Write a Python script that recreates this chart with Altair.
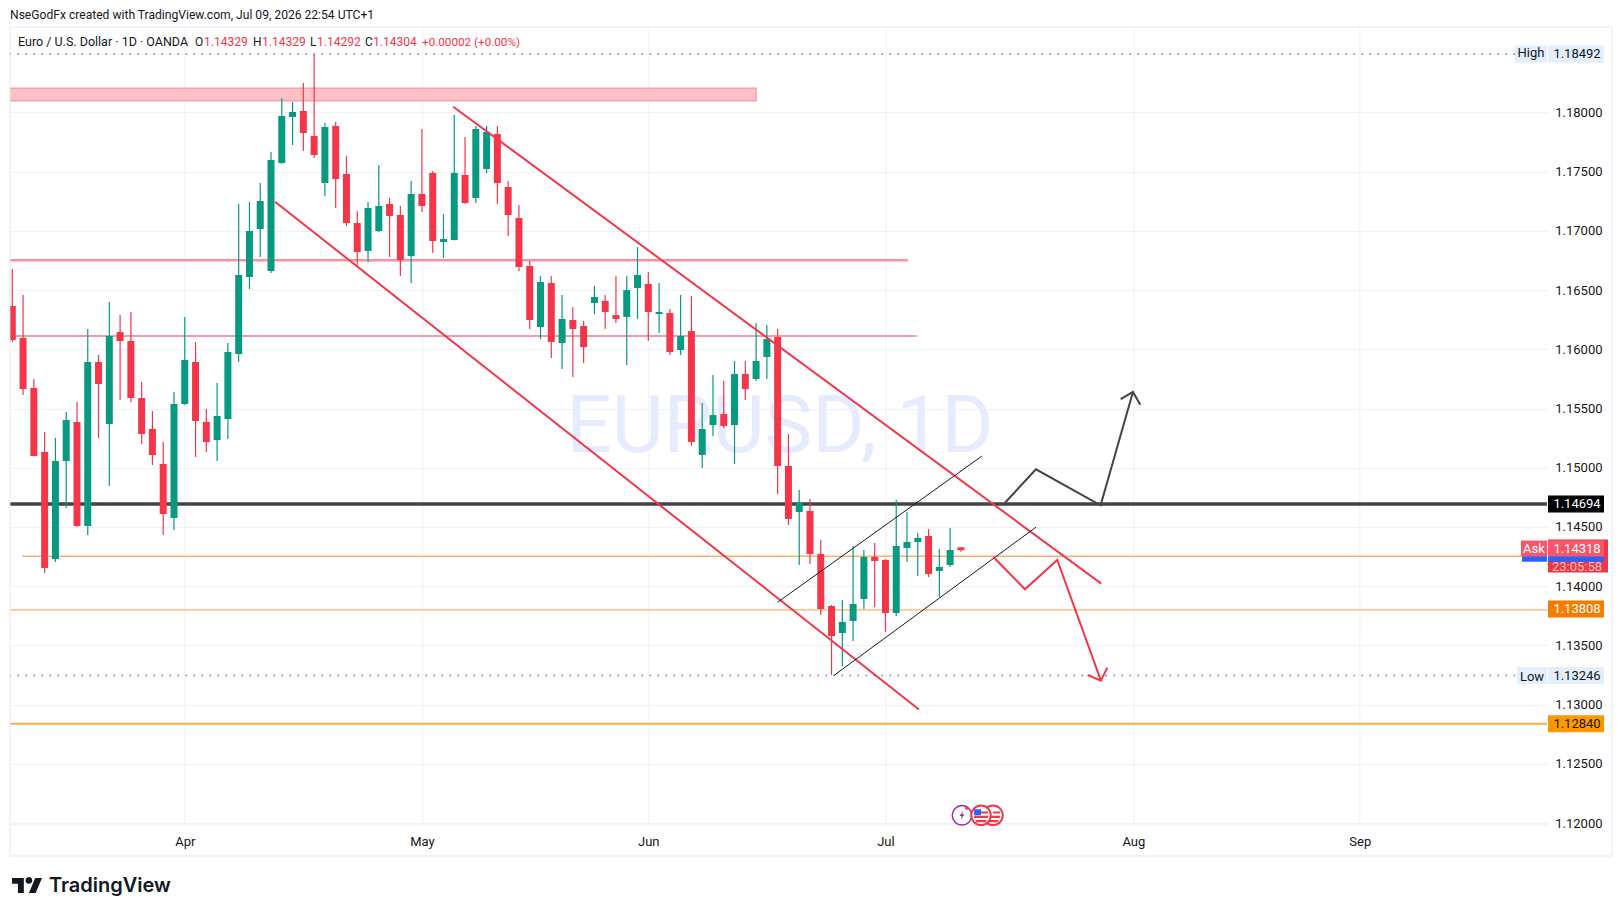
import altair as alt
import pandas as pd

opens = [1.16365,1.16095,1.15673,1.15133,1.14230,1.15057,1.15386,1.14509,1.15893,1.15369,
         1.16146,1.16070,1.15589,1.15327,1.15032,1.14576,1.15538,1.15893,1.15386,1.15234,
         1.15412,1.15960,1.16610,1.17015,1.16661,1.17572,1.17961,1.18011,1.17800,1.17403,
         1.17885,1.17479,1.17066,1.16830,1.16998,1.17226,1.17133,1.16787,1.17311,1.17488,
         1.16906,1.16922,1.17471,1.17277,1.17522,1.17817,1.17370,1.17108,1.16703,1.16188,
         1.16559,1.16053,1.16247,1.16197,1.16391,1.16408,1.16289,1.16273,1.16517,1.16551,
         1.16298,1.16306,1.15994,1.16154,1.15108,1.15361,1.15454,1.15361,1.15791,1.15749,
         1.15935,1.16104,1.15015,1.14627,1.14635,1.14272,1.13833,1.13605,1.13707,1.13892,
         1.14247,1.14222,1.13774,1.14323,1.14374,1.14424,1.14129,1.14179,1.14329]
highs = [1.16678,1.16458,1.15749,1.15302,1.15251,1.15471,1.15555,1.16171,1.15952,1.16399,
         1.16289,1.16315,1.15724,1.15479,1.15218,1.15640,1.16273,1.16062,1.15496,1.15715,
         1.16053,1.17226,1.17243,1.17403,1.17665,1.18121,1.18087,1.18247,1.18492,1.17910,
         1.17918,1.17631,1.17167,1.17243,1.17555,1.17277,1.17209,1.17420,1.17859,1.17505,
         1.17142,1.17977,1.17792,1.17885,1.17885,1.17885,1.17420,1.17218,1.16745,1.16619,
         1.16619,1.16458,1.16357,1.16239,1.16534,1.16458,1.16619,1.16619,1.16863,1.16652,
         1.16559,1.16340,1.16458,1.16450,1.15547,1.15783,1.15732,1.15901,1.15901,1.16222,
         1.16205,1.16171,1.15285,1.14812,1.14736,1.14390,1.13842,1.13884,1.14340,1.14306,
         1.14365,1.14230,1.14728,1.14627,1.14449,1.14483,1.14314,1.14492,1.14329]
lows = [1.16062,1.15614,1.15095,1.14112,1.14205,1.14660,1.14500,1.14433,1.15251,1.14846,
        1.15572,1.15555,1.15201,1.15023,1.14433,1.14475,1.15530,1.15091,1.15133,1.15057,
        1.15243,1.15893,1.16509,1.16779,1.16644,1.17564,1.17724,1.17674,1.17614,1.17294,
        1.17192,1.17041,1.16703,1.16737,1.16990,1.16779,1.16619,1.16559,1.17159,1.16813,
        1.16770,1.16918,1.17226,1.17235,1.17488,1.17226,1.16956,1.16661,1.16171,1.16087,
        1.15926,1.15834,1.15766,1.15884,1.16298,1.16171,1.16222,1.15867,1.16256,1.16070,
        1.16137,1.15952,1.15952,1.15184,1.14998,1.15268,1.15336,1.15032,1.15572,1.15732,
        1.15749,1.14779,1.14517,1.14179,1.14188,1.13757,1.13251,1.13327,1.13538,1.13808,
        1.13825,1.13614,1.13749,1.14205,1.14087,1.14078,1.13909,1.14163,1.14292]
closes = [1.16078,1.15665,1.15099,1.14154,1.15057,1.15403,1.14509,1.15893,1.15707,1.16112,
          1.16070,1.15589,1.15285,1.15108,1.14610,1.15538,1.15910,1.15395,1.15218,1.15437,
          1.15977,1.16627,1.16998,1.17252,1.17598,1.17969,1.18003,1.17825,1.17640,1.17876,
          1.17437,1.17066,1.16821,1.17192,1.17209,1.17125,1.16754,1.17311,1.17209,1.16914,
          1.16931,1.17488,1.17235,1.17859,1.17834,1.17403,1.17133,1.16695,1.16247,1.16568,
          1.16062,1.16256,1.16171,1.16019,1.16441,1.16315,1.16256,1.16500,1.16627,1.16315,
          1.16315,1.15977,1.16112,1.15218,1.15327,1.15445,1.15353,1.15791,1.15665,1.15901,
          1.16087,1.15015,1.14568,1.14711,1.14272,1.13808,1.13580,1.13698,1.13850,1.14247,
          1.14213,1.13774,1.14340,1.14374,1.14407,1.14103,1.14163,1.14306,1.14304]

month_bars = [16, 38, 59, 81, 104, 125]
month_names = ["Apr", "May", "Jun", "Jul", "Aug", "Sep"]
price_ticks = [1.12, 1.125, 1.13, 1.135, 1.14, 1.145, 1.15, 1.155, 1.16, 1.165, 1.17, 1.175, 1.18]

# drawings: (bar position, price)
channel_high = [(40.9, 1.18047), (101.02, 1.14022)]
channel_low = [(24.37, 1.17246), (84.11, 1.12959)]
rising_high = [(71.0, 1.13865), (89.95, 1.15099)]
rising_low = [(76.22, 1.13247), (94.96, 1.14498)]
path_up = [(92.09, 1.14705), (94.96, 1.14987), (100.96, 1.14683), (103.96, 1.15640)]
head_up = [(102.82, 1.15580), (103.96, 1.15640), (104.64, 1.15532)]
path_down = [(91.0, 1.14249), (93.94, 1.13974), (96.94, 1.14222), (100.99, 1.13203)]
head_down = [(99.76, 1.13251), (100.99, 1.13203), (101.58, 1.13313)]

# horizontal levels: start bar, end bar, price
lvl_black = (-1, 143, 1.14694)
lvl_orange_a = (-1, 143, 1.13800)
lvl_orange_b = (-1, 143, 1.12840)
lvl_price = (0.93, 143, 1.14253)
lvl_pink_a = (-1, 83.08, 1.16751)
lvl_pink_b = (-1, 83.91, 1.16112)
zone = (-1, 69.0, 1.18098, 1.18203)
dotted = [(-1, 140, 1.18492), (-1, 140.2, 1.13246)]

# right-hand price labels
tag_prices = ["1.18492", "1.13246", "1.14694", "1.13808", "1.12840", "1.14318"]
tag_inks = ["#131722", "#131722", "#FFFFFF", "#FFFFFF", "#131722", "#FFFFFF"]

RED = "#F5364A"
GREEN = "#089981"
INK = "#131722"
FONT = "Roboto"

W, H = 1536.6, 796
LEFT, TOP = 10.4, 28
def vx(x): return x - LEFT
def vy(y): return y - TOP

xs = alt.Scale(domain=[-0.176, 142.37], nice=False, zero=False, padding=0)
ys = alt.Scale(domain=[1.11993, 1.18712], nice=False, zero=False, padding=0)

labels_js = "{" + ",".join(f"'{b}':'{n}'" for b, n in zip(month_bars, month_names)) + "}"
x_axis = alt.Axis(values=month_bars, labelExpr=f"{labels_js}[datum.value]", title=None, grid=True,
                  gridColor="#F0F1F5", gridWidth=1, ticks=False, domain=True, domainColor="#F0F3FA",
                  domainWidth=2, labelColor=INK, labelFont=FONT, labelFontSize=13, labelPadding=11)
y_axis = alt.Axis(values=price_ticks, orient="right", format=".5f", title=None, grid=True,
                  gridColor="#F0F1F5", gridWidth=1, ticks=False, domain=False, labelColor=INK,
                  labelFont=FONT, labelFontSize=13, labelAlign="right", labelPadding=55,
                  labelBaseline="middle")

def XF(f="i"): return alt.X(f"{f}:Q", scale=xs, axis=x_axis, title=None)
def YF(f="p"): return alt.Y(f"{f}:Q", scale=ys, axis=y_axis, title=None)
one = pd.DataFrame({"a": [0]})

def segs(points):
    return pd.DataFrame([{"i": a, "p": b, "k": n} for n, (a, b) in enumerate(points)])

def draw(points, color, width):
    return alt.Chart(segs(points)).mark_line(color=color, strokeWidth=width, clip=True).encode(
        x=XF(), y=YF(), order="k:Q")

def level(row, color, width, dash=None):
    df = pd.DataFrame([{"i": row[0], "i2": row[1], "p": row[2]}])
    opts = dict(color=color, strokeWidth=width, clip=True)
    if dash:
        opts["strokeDash"] = dash
    return alt.Chart(df).mark_rule(**opts).encode(x=XF(), x2="i2:Q", y=YF())

def label(text, x, y, color=INK, size=13, align="left", weight=400, font=FONT):
    return alt.Chart(one).mark_text(align=align, baseline="middle", fontSize=size, fontWeight=weight,
                                    font=font, color=color).encode(
        x=alt.value(vx(x)), y=alt.value(vy(y)), text=alt.value(text))

def badge(price, x0, x1, color, height=17):
    df = pd.DataFrame([{"p": price}])
    return alt.Chart(df).mark_rule(color=color, strokeWidth=height).encode(
        x=alt.value(vx(x0)), x2=alt.value(vx(x1)), y=YF())

def icon(shape, x, y, size, fill=None, stroke=None, sw=0):
    opts = dict(shape=shape, size=size, opacity=1)
    opts["filled"] = fill is not None
    if fill is not None:
        opts["fill"] = fill
    if stroke is not None:
        opts["stroke"] = stroke
        opts["strokeWidth"] = sw
    return alt.Chart(one).mark_point(**opts).encode(x=alt.value(vx(x)), y=alt.value(vy(y)))

candles = pd.DataFrame({"i": range(len(opens)), "o": opens, "h": highs, "l": lows, "c": closes})
candles["dir"] = ["up" if c >= o else "down" for o, c in zip(opens, closes)]
col = alt.Color("dir:N", scale=alt.Scale(domain=["up", "down"], range=[GREEN, RED]), legend=None)

frame = alt.Chart(one).mark_rect(fillOpacity=0, stroke="#F0F3FA", strokeWidth=2).encode(
    x=alt.value(vx(10)), x2=alt.value(vx(1612)), y=alt.value(vy(27)), y2=alt.value(vy(856)))

watermark = label("EURUSD, 1D", 780, 428, "#E6ECFD", 80, "center")

zone_df = pd.DataFrame([{"i": zone[0], "i2": zone[1], "p": zone[2], "p2": zone[3]}])
zone_mark = alt.Chart(zone_df).mark_rect(fill="#FCC1C7", stroke="#F9A0A9", strokeWidth=1.5, clip=True).encode(
    x=XF(), x2="i2:Q", y=YF(), y2="p2:Q")

wicks = alt.Chart(candles).mark_rule(strokeWidth=1.2, clip=True).encode(
    x=XF(), y=YF("l"), y2="h:Q", color=col)
bodies = alt.Chart(candles).mark_bar(size=7, clip=True).encode(
    x=XF(), y=YF("o"), y2="c:Q", color=col)

logo = ("M-0.211 0.507L-0.606 0.507L-0.606 -0.113L-1 -0.113L-1 -0.507L-0.211 -0.507Z"
        "M0.577 0.507L0.127 0.507L0.549 -0.507L1 -0.507Z"
        "M-0.098 -0.338a0.225 0.225 0 1 0 0.45 0a0.225 0.225 0 1 0 -0.45 0Z")
bolt = "M0.25 -1L-0.5 0.15L-0.05 0.15L-0.25 1L0.5 -0.2L0.05 -0.2Z"
stripes = "M-0.8 0.05H0.8V0.3H-0.8ZM-0.6 0.55H0.6V0.8H-0.6ZM0 -0.45H0.8V-0.2H0Z"
canton = "M-0.8 -0.7H0V0H-0.8Z"

tag_df = pd.DataFrame({"p": [float(t) for t in tag_prices], "t": tag_prices, "c": tag_inks})
tags = alt.Chart(tag_df).mark_text(align="center", baseline="middle", fontSize=13, font=FONT).encode(
    x=alt.value(vx(1577)), y=YF(), text="t:N", color=alt.Color("c:N", scale=None))

layers = [
    frame, watermark, zone_mark,
    level(lvl_pink_a, "#F7939F", 2.4), level(lvl_pink_b, "#F89AA6", 2),
    level(dotted[0], "#787B86", 1.5, [1.5, 6.5]), level(dotted[1], "#787B86", 1.5, [1.5, 6.5]),
    level(lvl_black, "#434343", 3.5), level(lvl_orange_a, "#FFB067", 1.3),
    level(lvl_orange_b, "#FFAB40", 2), level(lvl_price, "#FFB067", 1.3),
    wicks, bodies,
    draw(channel_high, RED, 2), draw(channel_low, RED, 2),
    draw(rising_high, INK, 1), draw(rising_low, INK, 1),
    draw(path_up, "#434343", 2), draw(head_up, "#434343", 2),
    draw(path_down, RED, 2), draw(head_down, RED, 2),

    icon("circle", 962, 815.3, 380, "#FFFFFF", "#9C27B0", 1.5),
    icon(bolt, 962, 815.3, 90, "#9C27B0"),
    icon("circle", 967, 808, 14, RED),
    icon("circle", 993, 815.3, 380, "#FFFFFF", RED, 2),
    icon(stripes, 993, 815.3, 300, RED),
    icon("circle", 981, 815.3, 380, "#FFFFFF", RED, 2),
    icon(stripes, 981, 815.3, 300, RED),
    icon(canton, 981, 815.3, 300, "#2962FF"),

    badge(1.18492, 1515, 1547, "#E3EFFD"), badge(1.18492, 1548, 1604, "#E3EFFD"),
    badge(1.13246, 1517, 1547, "#E3EFFD"), badge(1.13246, 1548, 1604, "#E3EFFD"),
    badge(1.14694, 1548, 1604, "#000000"),
    badge(1.13808, 1548, 1604, "#F57C00"),
    badge(1.12840, 1548, 1604, "#FF9800"),
    badge(1.14256, 1548, 1608, "#F23645", 33),
    label("23:05:58", 1577, 566.5, "#FBC5CB", 13, "center"),
    badge(1.14232, 1522, 1547, "#2962FF", 6), badge(1.14232, 1548, 1604, "#2962FF", 6),
    badge(1.14318, 1521, 1547, "#F8566A", 16), badge(1.14318, 1548, 1604, "#F8566A", 16),
    label("High", 1531, 53, INK, 13, "center"),
    label("Low", 1532, 677, INK, 13, "center"),
    label("Ask", 1534, 548.5, "#FFFFFF", 13, "center"),
    tags,

    label("NseGodFx created with TradingView.com, Jul 09, 2026 22:54 UTC+1", 10, 15, INK, 12.1),
    label("Euro / U.S. Dollar · 1D · OANDA", 18, 42, INK, 12.5),
    label("O", 195, 42, INK, 12), label("1.14329", 204, 42, RED, 12),
    label("H", 253, 42, INK, 12), label("1.14329", 262, 42, RED, 12),
    label("L", 310, 42, INK, 12), label("1.14292", 317, 42, RED, 12),
    label("C", 365, 42, INK, 12), label("1.14304", 373, 42, RED, 12),
    label("+0.00002 (+0.00%)", 422, 42, RED, 11.7),

    icon(logo, 27, 885.5, 900, "#131722"),
    label("TradingView", 49, 886, "#131722", 20, "left", 600, "Inter"),
]

chart = alt.layer(*layers).properties(
    width=W, height=H,
    padding={"left": LEFT - 8, "top": TOP - 8, "right": 1615 - 1547, "bottom": 908 - 824},
    autosize=alt.AutoSizeParams(type="none"),
    background="white",
).configure_view(stroke=None)

chart.save("out.html", embed_options={"renderer": "svg", "actions": False})
